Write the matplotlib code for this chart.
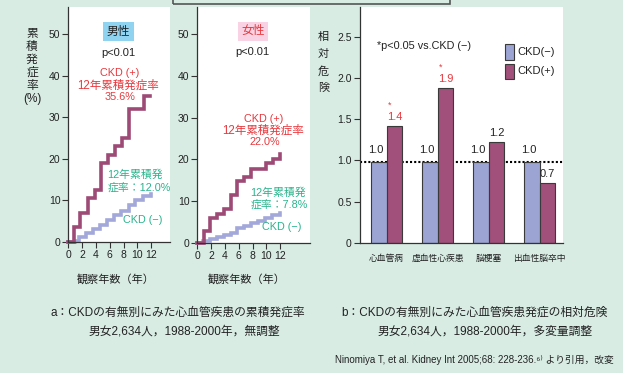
import matplotlib
matplotlib.use("Agg")
import matplotlib.pyplot as plt
from matplotlib.patches import Rectangle

plt.rcParams['font.family'] = ['Liberation Sans', 'Noto Sans CJK JP', 'DejaVu Sans']

# cumulative incidence, men (years, %)
men_pos_t = [0, 0.8, 1.7, 2.9, 3.9, 4.7, 5.8, 6.7, 7.7, 8.7, 10.9, 11.8]
men_pos_v = [0, 3.5, 6.9, 10.5, 12.5, 18.9, 20.9, 23.1, 25.1, 31.9, 35.1, 35.1]
men_neg_t = [0, 1.0, 1.5, 2.6, 3.6, 4.6, 5.6, 6.6, 7.6, 8.7, 9.7, 10.8, 11.9]
men_neg_v = [0, 0.3, 1.3, 2.1, 3.2, 4.1, 5.3, 6.4, 7.4, 8.8, 10.0, 11.1, 11.5]

# cumulative incidence, women
wom_pos_t = [0, 0.9, 1.8, 2.8, 3.8, 4.8, 5.7, 6.7, 7.7, 9.9, 10.9, 11.9]
wom_pos_v = [0, 2.9, 5.9, 6.9, 8.2, 11.5, 14.9, 15.9, 17.6, 19.2, 20.1, 21.4]
wom_neg_t = [0, 0.8, 1.8, 2.8, 3.8, 4.8, 5.8, 6.8, 7.8, 8.8, 9.8, 10.8, 12.0]
wom_neg_v = [0, 0.4, 0.9, 1.4, 1.9, 2.4, 3.6, 4.1, 4.7, 5.3, 6.0, 6.8, 7.3]

# relative risk
diseases = ['心血管病', '虚血性心疾患', '脳梗塞', '出血性脳卒中']
rr_neg = [0.98, 0.98, 0.98, 0.98]
rr_pos = [1.42, 1.88, 1.22, 0.73]
rr_neg_lbl = ['1.0', '1.0', '1.0', '1.0']
rr_pos_lbl = ['1.4', '1.9', '1.2', '0.7']
rr_star = [True, True, False, False]
legend_labels = ['CKD(−)', 'CKD(+)']

years_ticks = [0, 2, 4, 6, 8, 10, 12]
inc_ticks = [0, 10, 20, 30, 40, 50]
rr_ticks = [0, 0.5, 1.0, 1.5, 2.0, 2.5]
rr_tick_lbl = ['0', '0.5', '1.0', '1.5', '2.0', '2.5']

BG = '#d8ece4'
MAROON = '#9e4a76'
LAVENDER = '#a3a8da'
BAR_NEG = '#9ba4d3'
BAR_POS = '#a0507a'
RED = '#e8383d'
GREEN = '#2ab48c'
DARK = '#222222'

W, H = 623, 373


def px(x, y):
    return x / W, 1 - y / H


def rect(l, t, r, b):
    return [l / W, 1 - b / H, (r - l) / W, (b - t) / H]


fig = plt.figure(figsize=(6.23, 3.73), dpi=100, facecolor=BG)


def style_axis(ax):
    for s in ['top', 'right']:
        ax.spines[s].set_visible(False)
    for s in ['left', 'bottom']:
        ax.spines[s].set_color('#333333')
        ax.spines[s].set_linewidth(0.9)
    ax.tick_params(direction='out', length=4, width=0.8, colors='#333333',
                   labelsize=7.5, labelcolor=DARK, pad=1.5)


def incidence_panel(box, pos_t, pos_v, neg_t, neg_v, xmax):
    ax = fig.add_axes(box)
    ax.set_facecolor('white')
    ax.step(neg_t, neg_v, where='post', color=LAVENDER, lw=2.6, clip_on=False,
            solid_joinstyle='miter')
    ax.step(pos_t, pos_v, where='post', color=MAROON, lw=2.6, clip_on=False,
            solid_joinstyle='miter')
    ax.set_xlim(-0.05, xmax)
    ax.set_ylim(0, 56.5)
    ax.set_xticks(years_ticks)
    ax.set_yticks(inc_ticks)
    style_axis(ax)
    return ax


ax1 = incidence_panel(rect(68, 7, 170, 242), men_pos_t, men_pos_v, men_neg_t, men_neg_v, 14.7)
ax2 = incidence_panel(rect(197, 7, 310, 243), wom_pos_t, wom_pos_v, wom_neg_t, wom_neg_v, 16.3)

# men annotations
ax1.text(7.25, 50.5, '男性', ha='center', va='center', fontsize=8.5, color=DARK,
         bbox=dict(boxstyle='square,pad=0.3', fc='#8fd3f1', ec='none'))
ax1.text(7.3, 45.4, 'p<0.01', ha='center', va='center', fontsize=8, color=DARK)
ax1.text(7.46, 40.6, 'CKD (+)', ha='center', va='center', fontsize=7.8, color=RED)
ax1.text(7.2, 37.7, '12年累積発症率', ha='center', va='center', fontsize=8.3, color=RED)
ax1.text(7.46, 34.9, '35.6%', ha='center', va='center', fontsize=7.8, color=RED)
ax1.text(9.6, 16.3, '12年累積発', ha='center', va='center', fontsize=7.8, color=GREEN)
ax1.text(10.2, 13.0, '症率：12.0%', ha='center', va='center', fontsize=7.8, color=GREEN)
ax1.text(10.8, 5.3, 'CKD (−)', ha='center', va='center', fontsize=7.8, color=GREEN)

# women annotations
ax2.text(8.04, 50.7, '女性', ha='center', va='center', fontsize=8.5, color=RED,
         bbox=dict(boxstyle='square,pad=0.3', fc='#f9d3e3', ec='none'))
ax2.text(7.9, 45.7, 'p<0.01', ha='center', va='center', fontsize=8, color=DARK)
ax2.text(9.64, 29.7, 'CKD (+)', ha='center', va='center', fontsize=7.8, color=RED)
ax2.text(9.5, 27.0, '12年累積発症率', ha='center', va='center', fontsize=8.3, color=RED)
ax2.text(9.8, 24.2, '22.0%', ha='center', va='center', fontsize=7.8, color=RED)
ax2.text(11.67, 12.0, '12年累積発', ha='center', va='center', fontsize=7.8, color=GREEN)
ax2.text(11.8, 9.3, '症率：7.8%', ha='center', va='center', fontsize=7.8, color=GREEN)
ax2.text(12.2, 3.8, 'CKD (−)', ha='center', va='center', fontsize=7.8, color=GREEN)

for xc in [116, 247]:
    fig.text(*px(xc, 279), '観察年数（年）', ha='center', va='center', fontsize=8, color=DARK)

# stacked y label, left panel
for i, ch in enumerate(['累', '積', '発', '症', '率', '(%)']):
    fig.text(*px(32, 34 + 13 * i), ch, ha='center', va='center', fontsize=8.5, color=DARK)

# relative risk panel
ax3 = fig.add_axes(rect(359.5, 7, 563, 243))
ax3.set_facecolor('white')
xs = list(range(len(diseases)))
bw = 0.31
ax3.axhline(0.98, color='black', lw=1.5, ls=(0, (1, 1)), zorder=1)
ax3.bar([x - bw / 2 for x in xs], rr_neg, bw, color=BAR_NEG, edgecolor='#3a3a3a',
        lw=0.8, zorder=2)
ax3.bar([x + bw / 2 for x in xs], rr_pos, bw, color=BAR_POS, edgecolor='#3a3a3a',
        lw=0.8, zorder=2)
for x, h, lb in zip(xs, rr_neg, rr_neg_lbl):
    ax3.text(x - bw / 2 - 0.06, h + 0.15, lb, ha='center', va='center', fontsize=8, color=DARK)
for x, h, lb, st in zip(xs, rr_pos, rr_pos_lbl, rr_star):
    c = RED if st else DARK
    ax3.text(x + bw / 2, h + 0.11, lb, ha='center', va='center', fontsize=8, color=c)
    if st:
        ax3.text(x + bw / 2 - 0.1, h + 0.25, '*', ha='center', va='center', fontsize=6.5, color=RED)
ax3.set_xlim(-0.53, 3.46)
ax3.set_ylim(0, 2.86)
ax3.set_yticks(rr_ticks)
ax3.set_yticklabels(rr_tick_lbl)
ax3.set_xticks(xs)
ax3.set_xticklabels(diseases, fontsize=6.3)
style_axis(ax3)
ax3.tick_params(axis='x', length=0, pad=8, labelsize=6.3)
ax3.text(0.084, 0.835, '*p<0.05 vs.CKD (−)', transform=ax3.transAxes, ha='left',
         va='center', fontsize=7.8, color=DARK)

# legend swatches
for (top, bot), col, lb in zip([(44, 60), (64, 79)], [BAR_NEG, BAR_POS], legend_labels):
    fig.patches.append(Rectangle(px(505, bot), 9 / W, (bot - top) / H,
                                 transform=fig.transFigure, fc=col, ec='#3a3a3a', lw=0.8))
    fig.text(*px(517, (top + bot) / 2), lb, ha='left', va='center', fontsize=8, color=DARK)

for i, ch in enumerate('相対危険'):
    fig.text(*px(323.5, 37 + 17 * i), ch, ha='center', va='center', fontsize=8, color=DARK)

# captions
fig.text(*px(178, 313), 'a：CKDの有無別にみた心血管疾患の累積発症率', ha='center', va='center',
         fontsize=8.5, color=DARK)
fig.text(*px(184, 331), '男女2,634人，1988-2000年，無調整', ha='center', va='center',
         fontsize=8.5, color=DARK)
fig.text(*px(474, 313), 'b：CKDの有無別にみた心血管疾患発症の相対危険', ha='center', va='center',
         fontsize=8.5, color=DARK)
fig.text(*px(485, 331), '男女2,634人，1988-2000年，多変量調整', ha='center', va='center',
         fontsize=8.5, color=DARK)
fig.text(*px(614, 360), 'Ninomiya T, et al. Kidney Int 2005;68: 228-236.⁶⁾ より引用，改変',
         ha='right', va='center', fontsize=7, color=DARK)

# frame fragment at top
fig.patches.append(Rectangle(px(173, 4), (450 - 173) / W, 10 / H, transform=fig.transFigure,
                             fill=False, edgecolor='#555555', lw=1.2))

fig.savefig('out.png', dpi=100, facecolor=BG)
